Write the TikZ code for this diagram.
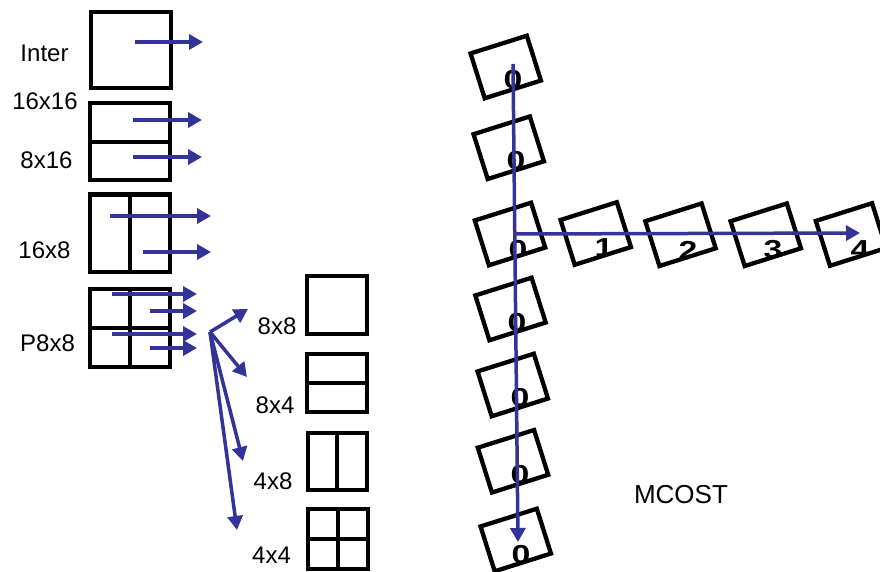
\documentclass[tikz,border=0pt]{standalone}
\usepackage{fontspec}
\setmainfont{Liberation Sans}
\usetikzlibrary{arrows.meta}
\pgfdeclarelayer{bg}
\pgfsetlayers{bg,main}
\definecolor{arrowblue}{RGB}{51,51,153}
\newcommand\mcbox[4]{%
  \node[tilt] (#1) at #2 {};
  \begin{pgfonlayer}{bg}
    \begin{scope}
      \clip (#1.north west) -- (#1.north east) -- (#1.south east) -- (#1.south west) -- cycle;
      \node[dig] (#1d) at #3 {\scalebox{1.3}[1]{#4}};
    \end{scope}
  \end{pgfonlayer}}
\begin{document}
\begin{tikzpicture}[x=1pt,y=-1pt,
  blk/.style={draw=black,line width=4pt,rectangle,inner sep=0pt,outer sep=0pt},
  divl/.style={draw=black,line width=4pt},
  arr/.style={draw=arrowblue,line width=3.5pt,-{Triangle[length=14pt,width=15pt]}},
  lbl/.style={font=\fontsize{24}{28}\selectfont,anchor=base,inner sep=0pt},
  mlbl/.style={font=\fontsize{26}{30}\selectfont,anchor=base,inner sep=0pt},
  tilt/.style={draw=black,line width=4.3pt,rectangle,inner sep=0pt,outer sep=0pt,minimum width=59pt,minimum height=47pt,rotate=17.5},
  dig/.style={font=\bfseries\fontsize{26}{30}\selectfont,anchor=north,inner sep=0pt}
]
\useasboundingbox (0,0) rectangle (880,572);
\begin{pgfonlayer}{bg}
  \fill[white] (0,0) rectangle (880,572);
\end{pgfonlayer}

% ---- left column: partition boxes ----
\node[blk,minimum width=80pt,minimum height=76pt] (inter) at (130.5,50) {};
\node[blk,minimum width=80pt,minimum height=77.5pt] (b1616) at (129.5,141.75) {};
\draw[divl] (b1616.west) -- (b1616.east);
\node[blk,minimum width=80pt,minimum height=77.5pt] (b168) at (130,233.25) {};
\draw[divl] (b168.north) -- (b168.south);
\node[blk,minimum width=80pt,minimum height=77.5pt] (bp88) at (130,327.75) {};
\draw[divl] (bp88.north) -- (bp88.south);
\draw[divl] (bp88.west) -- (bp88.east);

\node[lbl] (linter) at (44.5,62) {Inter};
\node[lbl] (l1616) at (45,110) {16x16};
\node[lbl] (l816) at (46.5,168) {8x16};
\node[lbl] (l168) at (44.5,258) {16x8};
\node[lbl] (lp88) at (47.5,351) {P8x8};

% ---- sub-partition boxes ----
\node[blk,minimum width=60pt,minimum height=58pt] (s88) at (337,305) {};
\node[blk,minimum width=60pt,minimum height=58pt] (s84) at (337,383) {};
\draw[divl] (s84.west) -- (s84.east);
\node[blk,minimum width=59pt,minimum height=57pt] (s48) at (337,461.5) {};
\draw[divl] (s48.north) -- (s48.south);
\node[blk,minimum width=60pt,minimum height=60pt] (s44) at (337.8,539) {};
\draw[divl] (s44.north) -- (s44.south);
\draw[divl] (s44.west) -- (s44.east);

\node[lbl] (l88) at (277,334) {8x8};
\node[lbl] (l84) at (275,413) {8x4};
\node[lbl] (l48) at (273,489) {4x8};
\node[lbl] (l44) at (271.5,563) {4x4};

% ---- MCOST tilted boxes ----
\mcbox{c1}{(505.75,67)}{(513,70)}{0}
\mcbox{c2}{(508.75,147.75)}{(516,151)}{0}
\mcbox{c3}{(510,234)}{(518,240)}{0}
\mcbox{c4}{(510.5,309)}{(517,313)}{0}
\mcbox{c5}{(512.75,385)}{(520,388)}{0}
\mcbox{c6}{(513,461.25)}{(520,465)}{0}
\mcbox{c7}{(515.75,540)}{(521,545)}{0}
\mcbox{r1}{(595.75,233.5)}{(604,238)}{1}
\mcbox{r2}{(680.5,234.75)}{(688,241)}{2}
\mcbox{r3}{(765.75,234.75)}{(773,240)}{3}
\mcbox{r4}{(851,234.5)}{(860,240)}{4}

\node[mlbl] (mcost) at (681,503) {MCOST};

% ---- arrows ----
\coordinate (a1s) at (135,42);  \coordinate (a1e) at (203,42);
\coordinate (a2s) at (133,120); \coordinate (a2e) at (202,120);
\coordinate (a3s) at (133,157); \coordinate (a3e) at (202,157);
\coordinate (a4s) at (110,216); \coordinate (a4e) at (211,216);
\coordinate (a5s) at (143,252); \coordinate (a5e) at (211,252);
\coordinate (a6s) at (112,294); \coordinate (a6e) at (197,294);
\coordinate (a7s) at (150,311); \coordinate (a7e) at (197,311);
\coordinate (a8s) at (112,334); \coordinate (a8e) at (197,334);
\coordinate (a9s) at (150,348); \coordinate (a9e) at (197,348);
\coordinate (fan) at (210,332);
\coordinate (f1) at (248,309);
\coordinate (f2) at (247,377);
\coordinate (f3) at (243,461);
\coordinate (f4) at (237,530);
\coordinate (vs) at (513,64);  \coordinate (ve) at (518,542);
\coordinate (hs) at (515,234); \coordinate (he) at (860,233);

\foreach \s/\e in {a1s/a1e,a2s/a2e,a3s/a3e,a4s/a4e,a5s/a5e,a6s/a6e,a7s/a7e,a8s/a8e,a9s/a9e}
  \draw[arr] (\s) -- (\e);
\foreach \e in {f1,f2,f3,f4}
  \draw[arr] (fan) -- (\e);
\draw[arr] (vs) -- (ve);
\draw[arr] (hs) -- (he);
\end{tikzpicture}
\end{document}
